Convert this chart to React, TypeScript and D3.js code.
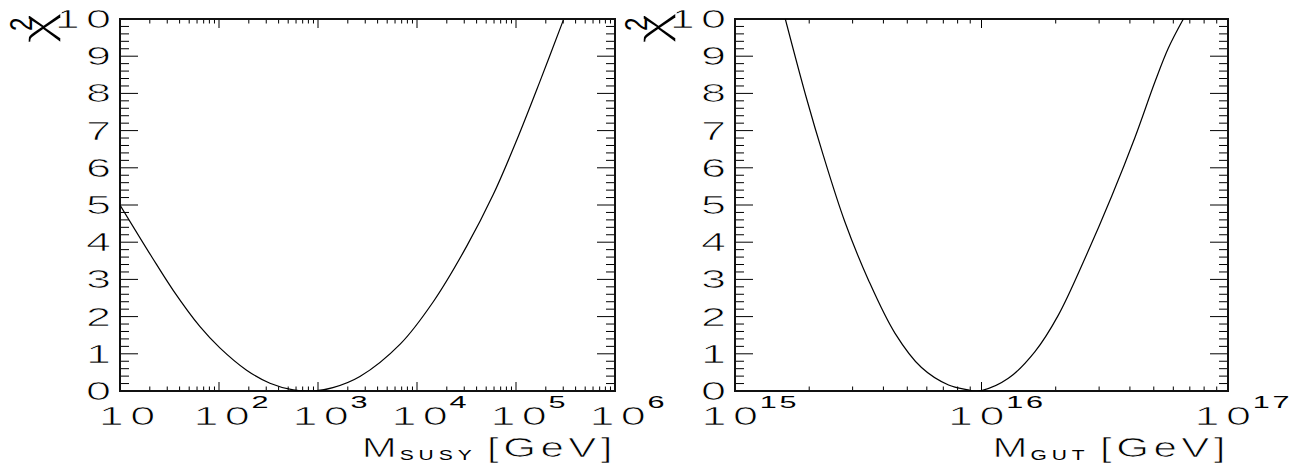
import React from 'react';
import * as d3 from 'd3';

// ---- data ----
const susyMass = [10, 20.9, 34.6, 64.3, 102, 190, 327, 562, 891, 1413, 2650, 6760, 14600, 31600, 58900, 101600, 173800, 300600];
const susyChi2 = [5.0, 3.61, 2.7, 1.73, 1.16, 0.56, 0.21, 0.03, 0.0, 0.09, 0.39, 1.26, 2.4, 3.88, 5.28, 6.74, 8.31, 9.97];

const gutMass = [1.6e15, 1.95e15, 2.28e15, 2.79e15, 3.48e15, 4.46e15, 5.71e15, 7.35e15, 8.83e15, 9.3e15, 1.0e16, 1.285e16, 1.648e16, 2.05e16, 2.63e16, 3.38e16, 4.2e16, 5.06e16, 5.73e16, 6.59e16];
const gutChi2 = [10.0, 7.87, 6.34, 4.55, 2.98, 1.55, 0.63, 0.16, 0.03, 0.0, 0.01, 0.34, 1.06, 2.04, 3.57, 5.25, 6.83, 8.32, 9.22, 10.0];

const chi2Ticks = [0, 1, 2, 3, 4, 5, 6, 7, 8, 9, 10];
const susyTickExps = [1, 2, 3, 4, 5, 6];
const gutTickExps = [15, 16, 17];

const FONT = "'Liberation Sans', Arial, sans-serif";
const SX = 1.8;
const TOP = 19;
const BOTTOM = 391;

// thin the large glyphs a little (white erosion stroke drawn over the fill)
const thin = { stroke: '#fff', strokeWidth: 0.7, paintOrder: 'fill stroke' } as const;

type PanelProps = {
  id: string;
  x0: number;
  x1: number;
  domain: [number, number];
  mass: number[];
  chi2: number[];
  exps: number[];
  plainFirst: boolean;
  sub: string;
};

function Panel({ id, x0, x1, domain, mass, chi2, exps, plainFirst, sub }: PanelProps) {
  const xs = d3.scaleLog().domain(domain).range([x0, x1]);
  const ys = d3.scaleLinear().domain([0, 10]).range([BOTTOM, TOP]);

  const e0 = Math.round(Math.log10(domain[0]));
  const e1 = Math.round(Math.log10(domain[1]));
  const minors: number[] = [];
  for (let e = e0; e < e1; e++) for (let k = 2; k <= 9; k++) minors.push(k * Math.pow(10, e));
  const majors = exps.map((e) => Math.pow(10, e));
  const yMinor: number[] = [];
  for (let i = 0; i <= 50; i++) if (i % 5 !== 0) yMinor.push(i / 5);

  const pts = mass.map((m, i) => ({ m, c: chi2[i] }));
  const line = d3
    .line<{ m: number; c: number }>()
    .x((d) => xs(d.m))
    .y((d) => ys(d.c))
    .curve(d3.curveCatmullRom.alpha(0.5));

  return (
    <g>
      <defs>
        <clipPath id={id}>
          <rect x={x0} y={TOP} width={x1 - x0} height={BOTTOM - TOP} />
        </clipPath>
      </defs>
      {minors.map((m, i) => (
        <g key={'mn' + i} stroke="#000" strokeWidth={1}>
          <line x1={xs(m)} x2={xs(m)} y1={BOTTOM} y2={BOTTOM - 4.5} />
          <line x1={xs(m)} x2={xs(m)} y1={TOP} y2={TOP + 4.5} />
        </g>
      ))}
      {majors.map((m, i) => (
        <g key={'mj' + i} stroke="#000" strokeWidth={1}>
          <line x1={xs(m)} x2={xs(m)} y1={BOTTOM} y2={BOTTOM - 9} />
          <line x1={xs(m)} x2={xs(m)} y1={TOP} y2={TOP + 9} />
        </g>
      ))}
      {yMinor.map((v, i) => (
        <g key={'ym' + i} stroke="#000" strokeWidth={1}>
          <line x1={x0} x2={x0 + 9} y1={ys(v)} y2={ys(v)} />
          <line x1={x1} x2={x1 - 9} y1={ys(v)} y2={ys(v)} />
        </g>
      ))}
      {chi2Ticks.map((v, i) => (
        <g key={'yM' + i} stroke="#000" strokeWidth={1}>
          <line x1={x0} x2={x0 + 18} y1={ys(v)} y2={ys(v)} />
          <line x1={x1} x2={x1 - 18} y1={ys(v)} y2={ys(v)} />
        </g>
      ))}
      <rect x={x0} y={TOP} width={x1 - x0} height={BOTTOM - TOP} fill="none" stroke="#111" strokeWidth={2} />
      <path d={line(pts) || ''} fill="none" stroke="#000" strokeWidth={1.2} clipPath={`url(#${id})`} />
      {chi2Ticks.map((v, i) => (
        <text
          key={'yl' + i}
          transform={`translate(${x0 - 9},${ys(v) + 9}) scale(${SX},1)`}
          textAnchor="end"
          fontFamily={FONT}
          fontSize={25}
          fill="#000"
          {...thin}
        >
          {v === 10 ? (
            <>
              <tspan>1</tspan>
              <tspan dx={3.5}>0</tspan>
            </>
          ) : (
            String(v)
          )}
        </text>
      ))}
      {exps.map((e, i) => {
        const plain = plainFirst && i === 0;
        const cx = xs(Math.pow(10, e)) + (plain ? 7 : String(e).length > 1 ? 14 : 12);
        return (
          <text
            key={'xl' + i}
            transform={`translate(${cx},425) scale(${SX},1)`}
            textAnchor="middle"
            fontFamily={FONT}
            fontSize={25}
            fill="#000"
            {...thin}
          >
            <tspan>1</tspan>
            <tspan dx={3.5}>0</tspan>
            {plain
              ? null
              : String(e)
                  .split('')
                  .map((ch, k) => (
                    <tspan key={k} dx={k === 0 ? 1 : 1.5} dy={k === 0 ? -17 : 0} fontSize={17} stroke="none">
                      {ch}
                    </tspan>
                  ))}
          </text>
        );
      })}
      <text
        transform={`translate(${x0 - 68},44) rotate(-90) scale(1.4,1)`}
        fontFamily={FONT}
        fontSize={44}
        fill="#000"
        stroke="#fff"
        strokeWidth={1.4}
        paintOrder="fill stroke"
      >
        χ
      </text>
      <text
        transform={`translate(${x0 - 88},31) rotate(-90) scale(1.2,1.6)`}
        fontFamily={FONT}
        fontSize={20}
        fill="#000"
      >
        2
      </text>
      <text
        transform={`translate(${x1 + 2},457) scale(1.5,1)`}
        textAnchor="end"
        fontFamily={FONT}
        fontSize={28}
        fill="#000"
        {...thin}
      >
        <tspan>M</tspan>
        <tspan dx={2} dy={3} fontSize={14} letterSpacing={3.3} stroke="none">
          {sub}
        </tspan>
        <tspan dx={7} dy={-3} letterSpacing={3}>
          [GeV]
        </tspan>
      </text>
    </g>
  );
}

export default function App() {
  return (
    <svg width={1295} height={464} style={{ position: 'absolute', left: 0, top: 0, background: '#fff' }}>
      <rect x={0} y={0} width={1295} height={464} fill="#fff" />
      <Panel
        id="clipL"
        x0={120}
        x1={615}
        domain={[10, 1e6]}
        mass={susyMass}
        chi2={susyChi2}
        exps={susyTickExps}
        plainFirst={true}
        sub="SUSY"
      />
      <Panel
        id="clipR"
        x0={735}
        x1={1228}
        domain={[1e15, 1e17]}
        mass={gutMass}
        chi2={gutChi2}
        exps={gutTickExps}
        plainFirst={false}
        sub="GUT"
      />
    </svg>
  );
}
